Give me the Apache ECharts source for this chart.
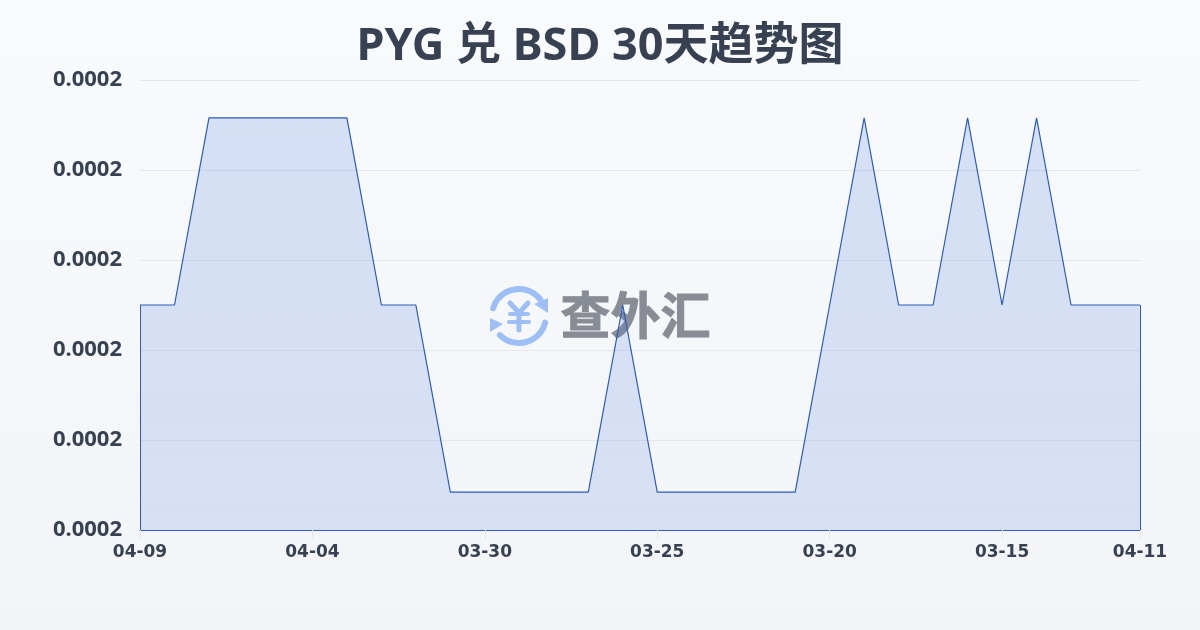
<!DOCTYPE html>
<html><head><meta charset="utf-8">
<style>html,body{margin:0;padding:0;background:#f6f8fa}#c{width:1200px;height:630px}</style>
<script src="https://cdn.jsdelivr.net/npm/echarts@6/dist/echarts.min.js"></script></head>
<body><div id="c"></div>
<script>
const titleText = 'PYG 兑 BSD 30天趋势图';
const dates = ['04-09','04-08','04-07','04-06','04-05','04-04','04-03','04-02','04-01','03-31','03-30','03-29','03-28','03-27','03-26','03-25','03-24','03-23','03-22','03-21','03-20','03-19','03-18','03-17','03-16','03-15','03-14','03-13','03-12','04-11'];
const L = 0.0001642, M = 0.000185, H = 0.0002058;
const rates = [M,M,H,H,H,H,H,M,M,L,L,L,L,L,M,L,L,L,L,L,M,H,M,M,H,M,H,M,M,M];
const axisMin = 0.00016, axisMax = 0.00021, axisStep = 0.00001;
const last = dates.length - 1;
const showTick = i => i % 5 === 0 && i < last - 3 || i === last;
const font = '"DejaVu Sans",sans-serif';
const titleFont = '"Noto Sans","Noto Sans CJK SC",sans-serif';
const ink = '#374151', lineBlue = '#2a5cbc';
const chart = echarts.init(document.getElementById('c'), null, {renderer:'canvas'});
const wmBlue = '#9dbff5', wmGray = '#888c94';
chart.setOption({
  animation:false,
  backgroundColor:{type:'linear',x:0,y:0,x2:0,y2:1,colorStops:[{offset:0,color:'#f8fafc'},{offset:1,color:'#f2f4f7'}]},
  title:{text:titleText,left:'center',top:20,textStyle:{fontFamily:titleFont,fontSize:45,fontWeight:'bold',color:ink}},
  grid:{left:140,right:60,top:80,bottom:100},
  xAxis:{type:'category',boundaryGap:false,data:dates,
    axisLine:{show:true,lineStyle:{color:lineBlue,width:1}},
    axisTick:{show:true,length:9,interval:(i)=>showTick(i),lineStyle:{color:'#e5e7eb'}},
    axisLabel:{interval:(i)=>showTick(i),fontFamily:font,fontSize:17,fontWeight:'bold',color:ink,margin:14,showMaxLabel:true},
    splitLine:{show:false}},
  yAxis:{type:'value',min:axisMin,max:axisMax,interval:axisStep,
    axisLine:{show:false},axisTick:{show:false},
    axisLabel:{formatter:v=>v.toFixed(4),fontFamily:titleFont,fontSize:22,fontWeight:'bold',color:ink,margin:18},
    splitLine:{lineStyle:{color:'#e5e7eb',width:1}}},
  graphic:{elements:[
    {type:'group',z:-1,silent:true,left:490,top:286,children:[
      {type:'arc',shape:{cx:30,cy:29,r:27,startAngle:-2.85,endAngle:-0.66},style:{stroke:wmBlue,lineWidth:6,fill:null,lineCap:'round'}},
      {type:'arc',shape:{cx:30,cy:29,r:27,startAngle:0.25,endAngle:2.36},style:{stroke:wmBlue,lineWidth:6,fill:null,lineCap:'round'}},
      {type:'polygon',shape:{points:[[45,17],[59,11],[59,26]]},style:{fill:wmBlue}},
      {type:'polygon',shape:{points:[[1,31],[14,37],[1,45]]},style:{fill:wmBlue}},
      {type:'polyline',shape:{points:[[21,16],[30,26],[39,16]]},style:{stroke:wmBlue,lineWidth:5,fill:null,lineCap:'round'}},
      {type:'line',shape:{x1:21,y1:27,x2:39,y2:27},style:{stroke:wmBlue,lineWidth:4,lineCap:'round'}},
      {type:'line',shape:{x1:20,y1:35,x2:40,y2:35},style:{stroke:wmBlue,lineWidth:4,lineCap:'round'}},
      {type:'line',shape:{x1:30,y1:26,x2:30,y2:43},style:{stroke:wmBlue,lineWidth:5,lineCap:'round'}}
    ]},
    {type:'text',z:-1,silent:true,left:560,top:290,style:{text:'查外汇',fill:wmGray,stroke:wmGray,lineWidth:1,fontFamily:'"Noto Sans CJK SC",sans-serif',fontWeight:'bold',fontSize:50}}
  ]},
  series:[{type:'line',data:rates,symbol:'none',smooth:false,z:5,
    lineStyle:{color:lineBlue,width:1.2},
    areaStyle:{opacity:1,color:{type:'linear',x:0,y:0,x2:0,y2:1,colorStops:[{offset:0,color:'rgba(75,125,220,0.2)'},{offset:1,color:'rgba(60,100,215,0.15)'}]}},
    markLine:{silent:true,symbol:'none',label:{show:false},animation:false,
      lineStyle:{color:lineBlue,width:1,type:'solid'},
      data:[
        [{coord:[dates[0],axisMin]},{coord:[dates[0],rates[0]]}],
        [{coord:[dates[last],axisMin]},{coord:[dates[last],rates[last]]}]
      ]}
  }]
});
</script></body></html>
